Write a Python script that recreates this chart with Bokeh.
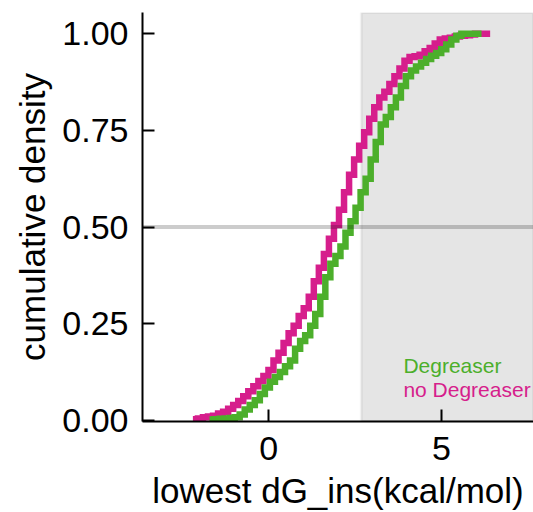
import numpy as np
from bokeh.plotting import figure
from bokeh.models import Range1d, FixedTicker, BoxAnnotation, Span, Label, ColumnDataSource
from bokeh.embed import file_html
from bokeh.resources import INLINE

# ---- data ----
series_names = ["Degreaser", "no Degreaser"]
series_colors = ["#4caf2b", "#d61e8c"]
bin_width = 0.146
degreaser_first_edge = -1.72
no_degreaser_first_edge = -2.2

degreaser_cum = [0.002, 0.003, 0.004, 0.005, 0.006, 0.008, 0.015, 0.028, 0.040, 0.052,
                 0.068, 0.085, 0.100, 0.112, 0.125, 0.140, 0.155, 0.185, 0.205, 0.220,
                 0.245, 0.275, 0.320, 0.370, 0.405, 0.425, 0.450, 0.485, 0.515, 0.550,
                 0.590, 0.625, 0.675, 0.720, 0.765, 0.785, 0.810, 0.835, 0.865, 0.890,
                 0.905, 0.915, 0.925, 0.935, 0.943, 0.950, 0.960, 0.972, 0.985, 0.995,
                 1.000, 1.000, 1.000, 1.000]

no_degreaser_cum = [0.003, 0.005, 0.008, 0.010, 0.012, 0.018, 0.022, 0.030, 0.040, 0.050,
                    0.062, 0.075, 0.088, 0.102, 0.115, 0.130, 0.155, 0.175, 0.200, 0.225,
                    0.245, 0.270, 0.290, 0.320, 0.360, 0.395, 0.430, 0.470, 0.505, 0.545,
                    0.590, 0.635, 0.675, 0.710, 0.745, 0.780, 0.810, 0.835, 0.850, 0.870,
                    0.890, 0.910, 0.930, 0.940, 0.942, 0.946, 0.955, 0.963, 0.975, 0.985,
                    0.988, 0.990, 0.993, 0.995, 0.996, 0.998, 1.000, 1.000, 1.000]

threshold = 2.68
reference_level = 0.5
x_ticks = [0, 5]
x_tick_labels = ["0", "5"]
y_ticks = [0, 0.25, 0.5, 0.75, 1.0]
y_tick_labels = ["0.00", "0.25", "0.50", "0.75", "1.00"]
x_label = "lowest dG_ins(kcal/mol)"
y_label = "cumulative density"

FONT = "Liberation Sans"
X_MIN, X_MAX = -3.66, 7.67


def step_source(first_edge, cum):
    edges = first_edge + bin_width * np.arange(len(cum) + 1)
    ys = list(cum) + [cum[-1]]
    return ColumnDataSource(dict(x=edges, y=ys))


p = figure(width=533, height=512, output_backend="svg", toolbar_location=None,
           x_range=Range1d(X_MIN, X_MAX), y_range=Range1d(-0.003, 1.055),
           min_border_left=142, min_border_right=0, min_border_top=12, min_border_bottom=91)
p.outline_line_color = None
p.xgrid.visible = False
p.ygrid.visible = False
p.background_fill_color = "white"
p.border_fill_color = "white"

box = BoxAnnotation(left=threshold, fill_color="black", fill_alpha=0.1,
                    line_color="black", line_alpha=0.05, line_width=3, level="underlay")
p.add_layout(box)

src_nd = step_source(no_degreaser_first_edge, no_degreaser_cum)
src_d = step_source(degreaser_first_edge, degreaser_cum)
p.step("x", "y", source=src_nd, mode="after", line_color=series_colors[1], line_width=6.5,
       line_join="miter", line_cap="butt")
p.step("x", "y", source=src_d, mode="after", line_color=series_colors[0], line_width=6.5,
       line_join="miter", line_cap="butt")

p.add_layout(Span(location=reference_level, dimension="width", line_color="black",
                  line_alpha=0.2, line_width=4))

# legend-like texts
p.add_layout(Label(x=3.9, y=0.142, text=series_names[0], text_color=series_colors[0],
                   text_font=FONT, text_font_size="21px", text_baseline="alphabetic"))
p.add_layout(Label(x=3.9, y=0.079, text=series_names[1], text_color=series_colors[1],
                   text_font=FONT, text_font_size="21px", text_baseline="alphabetic"))

for ax in (p.xaxis[0], p.yaxis[0]):
    ax.axis_line_width = 2
    ax.axis_line_color = "black"
    ax.major_tick_line_width = 2
    ax.major_tick_line_color = "black"
    ax.major_tick_in = 12
    ax.major_tick_out = 0
    ax.minor_tick_line_color = None
    ax.major_label_text_font = FONT
    ax.major_label_text_font_size = "34px"
    ax.major_label_text_color = "black"
    ax.axis_label_text_font = FONT
    ax.axis_label_text_font_size = "35px"
    ax.axis_label_text_font_style = "normal"
    ax.axis_label_text_color = "black"

p.xaxis.ticker = FixedTicker(ticks=x_ticks)
p.xaxis.major_label_overrides = dict(zip(x_ticks, x_tick_labels))
p.yaxis.ticker = FixedTicker(ticks=y_ticks)
p.yaxis.major_label_overrides = dict(zip(y_ticks, y_tick_labels))
p.xaxis.axis_label = x_label
p.yaxis.axis_label = y_label
p.xaxis.major_label_standoff = 15
p.xaxis.axis_label_standoff = 8
p.yaxis.major_label_standoff = 14
p.yaxis.axis_label_standoff = 7

open("out.html", "w").write(file_html(p, INLINE))
